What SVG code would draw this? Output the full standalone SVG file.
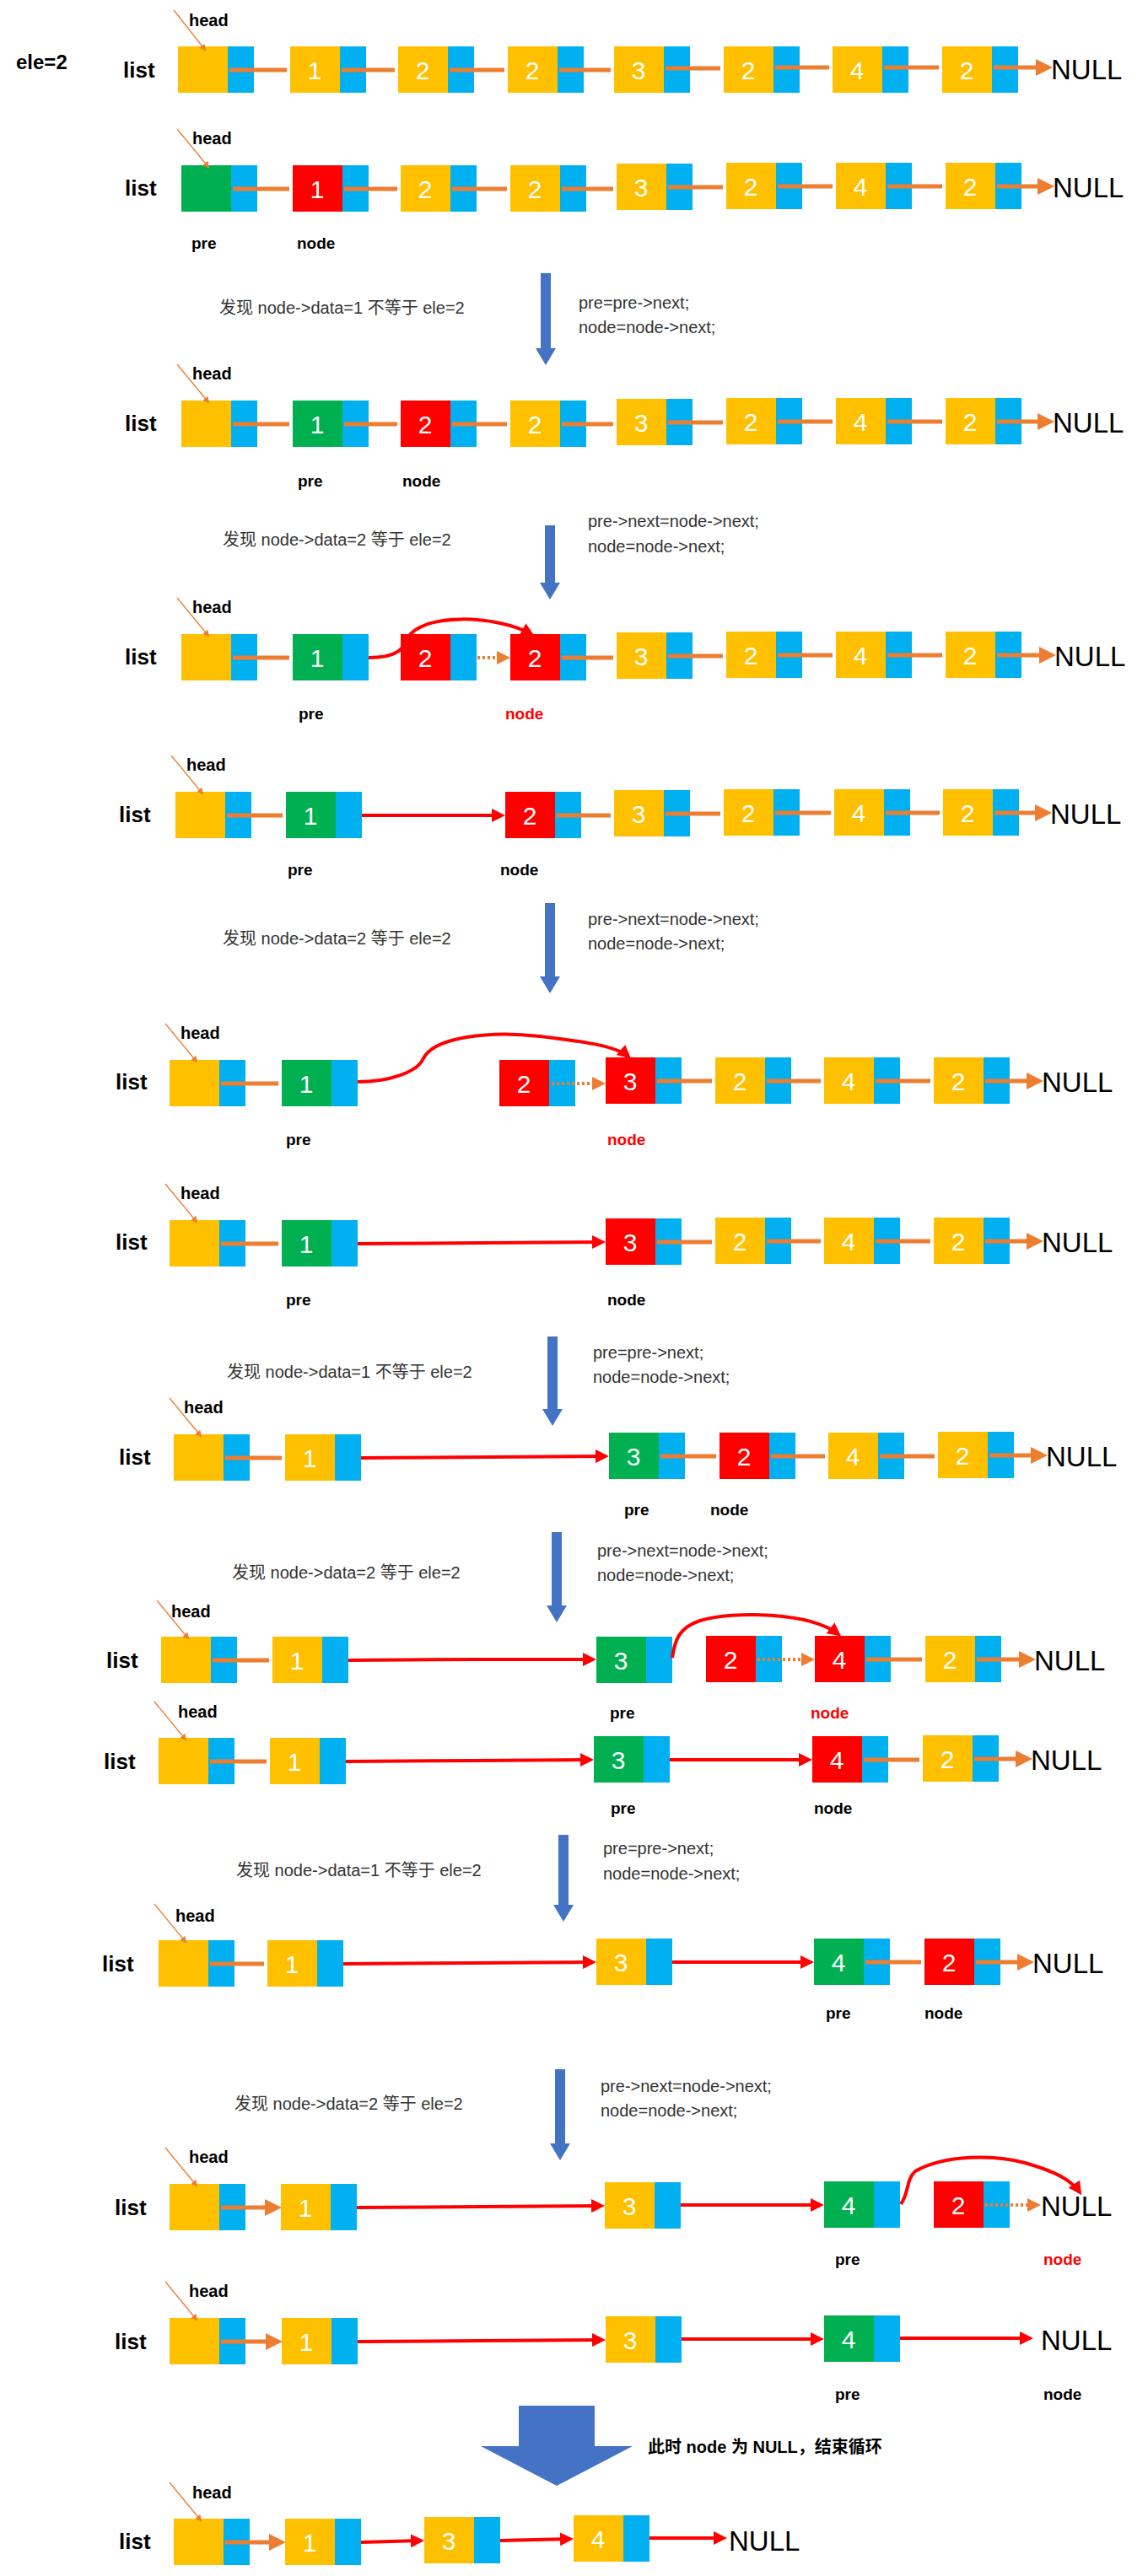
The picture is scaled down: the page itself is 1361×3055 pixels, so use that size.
<svg xmlns="http://www.w3.org/2000/svg" width="1361" height="3055" viewBox="0 0 1361 3055">
<style>
.Y{fill:#FFC000}.B{fill:#00B0F0}.G{fill:#00B050}.R{fill:#FF0000}
.num{font-family:"Liberation Sans",Arial,sans-serif;font-size:30px;fill:#fff;text-anchor:middle}
.lst{font-family:"Liberation Sans",Arial,sans-serif;font-size:26px;font-weight:bold;fill:#000}
.hd{font-family:"Liberation Sans",Arial,sans-serif;font-size:20px;font-weight:bold;fill:#000}
.lbl{font-family:"Liberation Sans",Arial,sans-serif;font-size:19px;font-weight:bold;fill:#000}
.lr{font-family:"Liberation Sans",Arial,sans-serif;font-size:19px;font-weight:bold;fill:#FF0000}
.nul{font-family:"Liberation Sans",Arial,sans-serif;font-size:33px;fill:#000}
.cap{font-family:"Liberation Sans","Noto Sans CJK SC",sans-serif;font-size:20px;fill:#333}
.o{stroke:#ED7D31;stroke-width:5;fill:none;marker-end:url(#ao)}
.od{stroke:#ED7D31;stroke-width:4;fill:none;stroke-dasharray:3 3;marker-end:url(#ao)}
.r{stroke:#FF0000;stroke-width:4;fill:none;marker-end:url(#ar)}
.hp{stroke:#ED7D31;stroke-width:1.3;fill:none;marker-end:url(#ah)}
.ba{fill:#4472C4}
</style>
<defs>
<marker id="ao" markerWidth="4" markerHeight="4" refX="3" refY="2" orient="auto"><path d="M0,0L4,2L0,4Z" fill="#ED7D31"/></marker>
<marker id="ar" markerWidth="4" markerHeight="4" refX="3" refY="2" orient="auto"><path d="M0,0L4,2L0,4Z" fill="#FF0000"/></marker>
<marker id="ah" markerWidth="8" markerHeight="8" refX="6" refY="4" orient="auto" markerUnits="userSpaceOnUse"><path d="M0,0L8,4L0,8Z" fill="#ED7D31"/></marker>
</defs>
<text x="19" y="82" style="font-family:'Liberation Sans',sans-serif;font-size:24px;font-weight:bold">ele=2</text>

<!-- Row 1 -->
<g id="row1">
<text class="lst" x="146" y="92">list</text><text class="hd" x="224" y="31">head</text>
<g id="r1h"><rect class="Y" x="211" y="55" width="59" height="55"/><rect class="B" x="270" y="55" width="31" height="55"/></g>
<g id="r1a"><rect class="Y" x="344" y="55" width="59" height="55"/><rect class="B" x="403" y="55" width="31" height="55"/><text class="num" x="373" y="94">1</text></g>
<g id="r1b"><rect class="Y" x="472" y="55" width="59" height="55"/><rect class="B" x="531" y="55" width="31" height="55"/><text class="num" x="501" y="94">2</text></g>
<g id="r1c"><rect class="Y" x="602" y="55" width="59" height="55"/><rect class="B" x="661" y="55" width="31" height="55"/><text class="num" x="631" y="94">2</text></g>
<g id="r1d"><rect class="Y" x="728" y="55" width="59" height="55"/><rect class="B" x="787" y="55" width="31" height="55"/><text class="num" x="757" y="94">3</text></g>
<g id="r1e"><rect class="Y" x="858" y="55" width="59" height="55"/><rect class="B" x="917" y="55" width="31" height="55"/><text class="num" x="887" y="94">2</text></g>
<g id="r1f"><rect class="Y" x="987" y="55" width="59" height="55"/><rect class="B" x="1046" y="55" width="31" height="55"/><text class="num" x="1016" y="94">4</text></g>
<g id="r1g"><rect class="Y" x="1117" y="55" width="59" height="55"/><rect class="B" x="1176" y="55" width="31" height="55"/><text class="num" x="1146" y="94">2</text></g>
<text class="nul" x="1246" y="94">NULL</text>
</g>

<!-- Row 2 -->
<g id="row2">
<text class="lst" x="148" y="232">list</text><text class="hd" x="228" y="171">head</text>
<g id="r2h"><rect class="G" x="215" y="196" width="59" height="55"/><rect class="B" x="274" y="196" width="31" height="55"/></g>
<g id="r2a"><rect class="R" x="347" y="196" width="59" height="55"/><rect class="B" x="406" y="196" width="31" height="55"/><text class="num" x="376" y="235">1</text></g>
<g id="r2b"><rect class="Y" x="475" y="196" width="59" height="55"/><rect class="B" x="534" y="196" width="31" height="55"/><text class="num" x="504" y="235">2</text></g>
<g id="r2c"><rect class="Y" x="605" y="196" width="59" height="55"/><rect class="B" x="664" y="196" width="31" height="55"/><text class="num" x="634" y="235">2</text></g>
<g id="r2d"><rect class="Y" x="731" y="194" width="59" height="55"/><rect class="B" x="790" y="194" width="31" height="55"/><text class="num" x="760" y="233">3</text></g>
<g id="r2e"><rect class="Y" x="861" y="193" width="59" height="55"/><rect class="B" x="920" y="193" width="31" height="55"/><text class="num" x="890" y="232">2</text></g>
<g id="r2f"><rect class="Y" x="991" y="193" width="59" height="55"/><rect class="B" x="1050" y="193" width="31" height="55"/><text class="num" x="1020" y="232">4</text></g>
<g id="r2g"><rect class="Y" x="1121" y="193" width="59" height="55"/><rect class="B" x="1180" y="193" width="31" height="55"/><text class="num" x="1150" y="232">2</text></g>
<text class="nul" x="1248" y="234">NULL</text>
<text class="lbl" x="227" y="295">pre</text><text class="lbl" x="352" y="295">node</text>
</g>

<path class="ba" d="M641,324H653V413H659L647,433L635,413H641Z"/>
<text class="cap" x="260" y="372">发现 node-&gt;data=1 不等于 ele=2</text>
<text class="cap" x="686" y="366">pre=pre-&gt;next;</text>
<text class="cap" x="686" y="395">node=node-&gt;next;</text>

<!-- Row 3 -->
<g id="row3">
<text class="lst" x="148" y="511">list</text><text class="hd" x="228" y="450">head</text>
<g id="r3h"><rect class="Y" x="215" y="475" width="59" height="55"/><rect class="B" x="274" y="475" width="31" height="55"/></g>
<g id="r3a"><rect class="G" x="347" y="475" width="59" height="55"/><rect class="B" x="406" y="475" width="31" height="55"/><text class="num" x="376" y="514">1</text></g>
<g id="r3b"><rect class="R" x="475" y="475" width="59" height="55"/><rect class="B" x="534" y="475" width="31" height="55"/><text class="num" x="504" y="514">2</text></g>
<g id="r3c"><rect class="Y" x="605" y="475" width="59" height="55"/><rect class="B" x="664" y="475" width="31" height="55"/><text class="num" x="634" y="514">2</text></g>
<g id="r3d"><rect class="Y" x="731" y="473" width="59" height="55"/><rect class="B" x="790" y="473" width="31" height="55"/><text class="num" x="760" y="512">3</text></g>
<g id="r3e"><rect class="Y" x="861" y="472" width="59" height="55"/><rect class="B" x="920" y="472" width="31" height="55"/><text class="num" x="890" y="511">2</text></g>
<g id="r3f"><rect class="Y" x="991" y="472" width="59" height="55"/><rect class="B" x="1050" y="472" width="31" height="55"/><text class="num" x="1020" y="511">4</text></g>
<g id="r3g"><rect class="Y" x="1121" y="472" width="59" height="55"/><rect class="B" x="1180" y="472" width="31" height="55"/><text class="num" x="1150" y="511">2</text></g>
<text class="nul" x="1248" y="513">NULL</text>
<text class="lbl" x="353" y="577">pre</text><text class="lbl" x="477" y="577">node</text>
</g>

<path class="ba" d="M646,623H658V691H664L652,711L640,691H646Z"/>
<text class="cap" x="264" y="647">发现 node-&gt;data=2 等于 ele=2</text>
<text class="cap" x="697" y="625">pre-&gt;next=node-&gt;next;</text>
<text class="cap" x="697" y="655">node=node-&gt;next;</text>

<!-- Row 4 -->
<g id="row4">
<text class="lst" x="148" y="788">list</text><text class="hd" x="228" y="727">head</text>
<g id="r4h"><rect class="Y" x="215" y="752" width="59" height="55"/><rect class="B" x="274" y="752" width="31" height="55"/></g>
<g id="r4a"><rect class="G" x="347" y="752" width="59" height="55"/><rect class="B" x="406" y="752" width="31" height="55"/><text class="num" x="376" y="791">1</text></g>
<g id="r4b"><rect class="R" x="475" y="752" width="59" height="55"/><rect class="B" x="534" y="752" width="31" height="55"/><text class="num" x="504" y="791">2</text></g>
<g id="r4c"><rect class="R" x="605" y="752" width="59" height="55"/><rect class="B" x="664" y="752" width="31" height="55"/><text class="num" x="634" y="791">2</text></g>
<g id="r4d"><rect class="Y" x="731" y="750" width="59" height="55"/><rect class="B" x="790" y="750" width="31" height="55"/><text class="num" x="760" y="789">3</text></g>
<g id="r4e"><rect class="Y" x="861" y="749" width="59" height="55"/><rect class="B" x="920" y="749" width="31" height="55"/><text class="num" x="890" y="788">2</text></g>
<g id="r4f"><rect class="Y" x="991" y="749" width="59" height="55"/><rect class="B" x="1050" y="749" width="31" height="55"/><text class="num" x="1020" y="788">4</text></g>
<g id="r4g"><rect class="Y" x="1121" y="749" width="59" height="55"/><rect class="B" x="1180" y="749" width="31" height="55"/><text class="num" x="1150" y="788">2</text></g>
<text class="nul" x="1250" y="790">NULL</text>
<text class="lbl" x="354" y="853">pre</text><text class="lr" x="599" y="853">node</text>
</g>

<path class="ba" d="M646,1071H658V1158H664L652,1178L640,1158H646Z"/>
<text class="cap" x="264" y="1120">发现 node-&gt;data=2 等于 ele=2</text>
<text class="cap" x="697" y="1097">pre-&gt;next=node-&gt;next;</text>
<text class="cap" x="697" y="1126">node=node-&gt;next;</text>

<!-- Row 5 -->
<g id="row5">
<text class="lst" x="141" y="975">list</text><text class="hd" x="221" y="914">head</text>
<g id="r5h"><rect class="Y" x="208" y="939" width="59" height="55"/><rect class="B" x="267" y="939" width="31" height="55"/></g>
<g id="r5a"><rect class="G" x="339" y="939" width="59" height="55"/><rect class="B" x="398" y="939" width="31" height="55"/><text class="num" x="368" y="978">1</text></g>
<g id="r5b"><rect class="R" x="599" y="939" width="59" height="55"/><rect class="B" x="658" y="939" width="31" height="55"/><text class="num" x="628" y="978">2</text></g>
<g id="r5c"><rect class="Y" x="728" y="937" width="59" height="55"/><rect class="B" x="787" y="937" width="31" height="55"/><text class="num" x="757" y="976">3</text></g>
<g id="r5d"><rect class="Y" x="858" y="936" width="59" height="55"/><rect class="B" x="917" y="936" width="31" height="55"/><text class="num" x="887" y="975">2</text></g>
<g id="r5e"><rect class="Y" x="989" y="936" width="59" height="55"/><rect class="B" x="1048" y="936" width="31" height="55"/><text class="num" x="1018" y="975">4</text></g>
<g id="r5f"><rect class="Y" x="1118" y="936" width="59" height="55"/><rect class="B" x="1177" y="936" width="31" height="55"/><text class="num" x="1147" y="975">2</text></g>
<text class="nul" x="1245" y="977">NULL</text>
<text class="lbl" x="341" y="1038">pre</text><text class="lbl" x="593" y="1038">node</text>
</g>

<!-- Row 6 -->
<g id="row6">
<text class="lst" x="137" y="1292">list</text><text class="hd" x="214" y="1232">head</text>
<g id="r6h"><rect class="Y" x="201" y="1257" width="59" height="55"/><rect class="B" x="260" y="1257" width="31" height="55"/></g>
<g id="r6a"><rect class="G" x="334" y="1257" width="59" height="55"/><rect class="B" x="393" y="1257" width="31" height="55"/><text class="num" x="363" y="1296">1</text></g>
<g id="r6b"><rect class="R" x="592" y="1257" width="59" height="55"/><rect class="B" x="651" y="1257" width="31" height="55"/><text class="num" x="621" y="1296">2</text></g>
<g id="r6c"><rect class="R" x="718" y="1254" width="59" height="55"/><rect class="B" x="777" y="1254" width="31" height="55"/><text class="num" x="747" y="1293">3</text></g>
<g id="r6d"><rect class="Y" x="848" y="1254" width="59" height="55"/><rect class="B" x="907" y="1254" width="31" height="55"/><text class="num" x="877" y="1293">2</text></g>
<g id="r6e"><rect class="Y" x="977" y="1254" width="59" height="55"/><rect class="B" x="1036" y="1254" width="31" height="55"/><text class="num" x="1006" y="1293">4</text></g>
<g id="r6f"><rect class="Y" x="1107" y="1254" width="59" height="55"/><rect class="B" x="1166" y="1254" width="31" height="55"/><text class="num" x="1136" y="1293">2</text></g>
<text class="nul" x="1235" y="1295">NULL</text>
<text class="lbl" x="339" y="1358">pre</text><text class="lr" x="720" y="1358">node</text>
</g>

<!-- Row 7 -->
<g id="row7">
<text class="lst" x="137" y="1482">list</text><text class="hd" x="214" y="1422">head</text>
<g id="r7h"><rect class="Y" x="201" y="1447" width="59" height="55"/><rect class="B" x="260" y="1447" width="31" height="55"/></g>
<g id="r7a"><rect class="G" x="334" y="1447" width="59" height="55"/><rect class="B" x="393" y="1447" width="31" height="55"/><text class="num" x="363" y="1486">1</text></g>
<g id="r7c"><rect class="R" x="718" y="1445" width="59" height="55"/><rect class="B" x="777" y="1445" width="31" height="55"/><text class="num" x="747" y="1484">3</text></g>
<g id="r7d"><rect class="Y" x="848" y="1444" width="59" height="55"/><rect class="B" x="907" y="1444" width="31" height="55"/><text class="num" x="877" y="1483">2</text></g>
<g id="r7e"><rect class="Y" x="977" y="1444" width="59" height="55"/><rect class="B" x="1036" y="1444" width="31" height="55"/><text class="num" x="1006" y="1483">4</text></g>
<g id="r7f"><rect class="Y" x="1107" y="1444" width="59" height="55"/><rect class="B" x="1166" y="1444" width="31" height="55"/><text class="num" x="1136" y="1483">2</text></g>
<text class="nul" x="1235" y="1485">NULL</text>
<text class="lbl" x="339" y="1548">pre</text><text class="lbl" x="720" y="1548">node</text>
</g>

<path class="ba" d="M649,1585H661V1671H667L655,1691L643,1671H649Z"/>
<text class="cap" x="269" y="1634">发现 node-&gt;data=1 不等于 ele=2</text>
<text class="cap" x="703" y="1611">pre=pre-&gt;next;</text>
<text class="cap" x="703" y="1640">node=node-&gt;next;</text>

<!-- Row 8 -->
<g id="row8">
<text class="lst" x="141" y="1737">list</text><text class="hd" x="218" y="1676">head</text>
<g id="r8h"><rect class="Y" x="206" y="1701" width="59" height="55"/><rect class="B" x="265" y="1701" width="31" height="55"/></g>
<g id="r8a"><rect class="Y" x="338" y="1701" width="59" height="55"/><rect class="B" x="397" y="1701" width="31" height="55"/><text class="num" x="367" y="1740">1</text></g>
<g id="r8b"><rect class="G" x="722" y="1699" width="59" height="55"/><rect class="B" x="781" y="1699" width="31" height="55"/><text class="num" x="751" y="1738">3</text></g>
<g id="r8c"><rect class="R" x="853" y="1699" width="59" height="55"/><rect class="B" x="912" y="1699" width="31" height="55"/><text class="num" x="882" y="1738">2</text></g>
<g id="r8d"><rect class="Y" x="982" y="1699" width="59" height="55"/><rect class="B" x="1041" y="1699" width="31" height="55"/><text class="num" x="1011" y="1738">4</text></g>
<g id="r8e"><rect class="Y" x="1112" y="1698" width="59" height="55"/><rect class="B" x="1171" y="1698" width="31" height="55"/><text class="num" x="1141" y="1737">2</text></g>
<text class="nul" x="1240" y="1739">NULL</text>
<text class="lbl" x="740" y="1797">pre</text><text class="lbl" x="842" y="1797">node</text>
</g>

<path class="ba" d="M654,1817H666V1904H672L660,1924L648,1904H654Z"/>
<text class="cap" x="275" y="1872">发现 node-&gt;data=2 等于 ele=2</text>
<text class="cap" x="708" y="1846">pre-&gt;next=node-&gt;next;</text>
<text class="cap" x="708" y="1875">node=node-&gt;next;</text>

<!-- Row 9 -->
<g id="row9">
<text class="lst" x="126" y="1978">list</text><text class="hd" x="203" y="1918">head</text>
<g id="r9h"><rect class="Y" x="191" y="1941" width="59" height="55"/><rect class="B" x="250" y="1941" width="31" height="55"/></g>
<g id="r9a"><rect class="Y" x="323" y="1941" width="59" height="55"/><rect class="B" x="382" y="1941" width="31" height="55"/><text class="num" x="352" y="1980">1</text></g>
<g id="r9b"><rect class="G" x="707" y="1941" width="59" height="55"/><rect class="B" x="766" y="1941" width="31" height="55"/><text class="num" x="736" y="1980">3</text></g>
<g id="r9c"><rect class="R" x="837" y="1940" width="59" height="55"/><rect class="B" x="896" y="1940" width="31" height="55"/><text class="num" x="866" y="1979">2</text></g>
<g id="r9d"><rect class="R" x="966" y="1940" width="59" height="55"/><rect class="B" x="1025" y="1940" width="31" height="55"/><text class="num" x="995" y="1979">4</text></g>
<g id="r9e"><rect class="Y" x="1097" y="1940" width="59" height="55"/><rect class="B" x="1156" y="1940" width="31" height="55"/><text class="num" x="1126" y="1979">2</text></g>
<text class="nul" x="1226" y="1981">NULL</text>
<text class="lbl" x="723" y="2038">pre</text><text class="lr" x="961" y="2038">node</text>
</g>

<!-- Row 10 -->
<g id="row10">
<text class="lst" x="123" y="2098">list</text><text class="hd" x="211" y="2037">head</text>
<g id="r10h"><rect class="Y" x="188" y="2061" width="59" height="55"/><rect class="B" x="247" y="2061" width="31" height="55"/></g>
<g id="r10a"><rect class="Y" x="320" y="2061" width="59" height="55"/><rect class="B" x="379" y="2061" width="31" height="55"/><text class="num" x="349" y="2100">1</text></g>
<g id="r10b"><rect class="G" x="704" y="2059" width="59" height="55"/><rect class="B" x="763" y="2059" width="31" height="55"/><text class="num" x="733" y="2098">3</text></g>
<g id="r10c"><rect class="R" x="963" y="2059" width="59" height="55"/><rect class="B" x="1022" y="2059" width="31" height="55"/><text class="num" x="992" y="2098">4</text></g>
<g id="r10d"><rect class="Y" x="1094" y="2058" width="59" height="55"/><rect class="B" x="1153" y="2058" width="31" height="55"/><text class="num" x="1123" y="2097">2</text></g>
<text class="nul" x="1222" y="2099">NULL</text>
<text class="lbl" x="724" y="2151">pre</text><text class="lbl" x="965" y="2151">node</text>
</g>

<path class="ba" d="M662,2176H674V2259H680L668,2279L656,2259H662Z"/>
<text class="cap" x="280" y="2225">发现 node-&gt;data=1 不等于 ele=2</text>
<text class="cap" x="715" y="2199">pre=pre-&gt;next;</text>
<text class="cap" x="715" y="2229">node=node-&gt;next;</text>

<!-- Row 11 -->
<g id="row11">
<text class="lst" x="121" y="2338">list</text><text class="hd" x="208" y="2279">head</text>
<g id="r11h"><rect class="Y" x="188" y="2301" width="59" height="55"/><rect class="B" x="247" y="2301" width="31" height="55"/></g>
<g id="r11a"><rect class="Y" x="317" y="2301" width="59" height="55"/><rect class="B" x="376" y="2301" width="31" height="55"/><text class="num" x="346" y="2340">1</text></g>
<g id="r11b"><rect class="Y" x="707" y="2299" width="59" height="55"/><rect class="B" x="766" y="2299" width="31" height="55"/><text class="num" x="736" y="2338">3</text></g>
<g id="r11c"><rect class="G" x="965" y="2299" width="59" height="55"/><rect class="B" x="1024" y="2299" width="31" height="55"/><text class="num" x="994" y="2338">4</text></g>
<g id="r11d"><rect class="R" x="1096" y="2299" width="59" height="55"/><rect class="B" x="1155" y="2299" width="31" height="55"/><text class="num" x="1125" y="2338">2</text></g>
<text class="nul" x="1224" y="2340">NULL</text>
<text class="lbl" x="979" y="2394">pre</text><text class="lbl" x="1096" y="2394">node</text>
</g>

<path class="ba" d="M658,2454H670V2542H676L664,2562L652,2542H658Z"/>
<text class="cap" x="278" y="2502">发现 node-&gt;data=2 等于 ele=2</text>
<text class="cap" x="712" y="2481">pre-&gt;next=node-&gt;next;</text>
<text class="cap" x="712" y="2510">node=node-&gt;next;</text>

<!-- Row 12 -->
<g id="row12">
<text class="lst" x="136" y="2627">list</text><text class="hd" x="224" y="2565">head</text>
<g id="r12h"><rect class="Y" x="201" y="2590" width="59" height="55"/><rect class="B" x="260" y="2590" width="31" height="55"/></g>
<g id="r12a"><rect class="Y" x="333" y="2590" width="59" height="55"/><rect class="B" x="392" y="2590" width="31" height="55"/><text class="num" x="362" y="2629">1</text></g>
<g id="r12b"><rect class="Y" x="717" y="2588" width="59" height="55"/><rect class="B" x="776" y="2588" width="31" height="55"/><text class="num" x="746" y="2627">3</text></g>
<g id="r12c"><rect class="G" x="977" y="2587" width="59" height="55"/><rect class="B" x="1036" y="2587" width="31" height="55"/><text class="num" x="1006" y="2626">4</text></g>
<g id="r12d"><rect class="R" x="1107" y="2587" width="59" height="55"/><rect class="B" x="1166" y="2587" width="31" height="55"/><text class="num" x="1136" y="2626">2</text></g>
<text class="nul" x="1234" y="2628">NULL</text>
<text class="lbl" x="990" y="2686">pre</text><text class="lr" x="1237" y="2686">node</text>
</g>

<!-- Row 13 -->
<g id="row13">
<text class="lst" x="136" y="2786">list</text><text class="hd" x="224" y="2724">head</text>
<g id="r13h"><rect class="Y" x="201" y="2749" width="59" height="55"/><rect class="B" x="260" y="2749" width="31" height="55"/></g>
<g id="r13a"><rect class="Y" x="334" y="2749" width="59" height="55"/><rect class="B" x="393" y="2749" width="31" height="55"/><text class="num" x="363" y="2788">1</text></g>
<g id="r13b"><rect class="Y" x="718" y="2747" width="59" height="55"/><rect class="B" x="777" y="2747" width="31" height="55"/><text class="num" x="747" y="2786">3</text></g>
<g id="r13c"><rect class="G" x="977" y="2746" width="59" height="55"/><rect class="B" x="1036" y="2746" width="31" height="55"/><text class="num" x="1006" y="2785">4</text></g>
<text class="nul" x="1234" y="2787">NULL</text>
<text class="lbl" x="990" y="2846">pre</text><text class="lbl" x="1237" y="2846">node</text>
</g>

<path class="ba" d="M615,2853H705V2901H750L660,2948L570,2901H615Z"/>
<text x="768" y="2909" style="font-family:'Liberation Sans','Noto Sans CJK SC',sans-serif;font-size:20px;font-weight:bold">此时 node 为 NULL，结束循环</text>

<!-- Row 14 -->
<g id="row14">
<text class="lst" x="141" y="3023">list</text><text class="hd" x="228" y="2963">head</text>
<g id="r14h"><rect class="Y" x="206" y="2987" width="59" height="55"/><rect class="B" x="265" y="2987" width="31" height="55"/></g>
<g id="r14a"><rect class="Y" x="338" y="2987" width="59" height="55"/><rect class="B" x="397" y="2987" width="31" height="55"/><text class="num" x="367" y="3026">1</text></g>
<g id="r14b"><rect class="Y" x="503" y="2985" width="59" height="55"/><rect class="B" x="562" y="2985" width="31" height="55"/><text class="num" x="532" y="3024">3</text></g>
<g id="r14c"><rect class="Y" x="680" y="2983" width="59" height="55"/><rect class="B" x="739" y="2983" width="31" height="55"/><text class="num" x="709" y="3022">4</text></g>
<text class="nul" x="864" y="3025">NULL</text>
</g>

<g id="connectors">
<!-- head pointers -->
<path class="hp" d="M206,12L243,59"/><path class="hp" d="M210,153L247,198"/><path class="hp" d="M210,432L247,477"/><path class="hp" d="M210,709L247,754"/>
<path class="hp" d="M203,896L240,941"/><path class="hp" d="M196,1214L233,1259"/><path class="hp" d="M196,1404L233,1449"/><path class="hp" d="M201,1658L238,1703"/>
<path class="hp" d="M186,1898L223,1943"/><path class="hp" d="M183,2018L220,2063"/><path class="hp" d="M183,2258L220,2303"/><path class="hp" d="M196,2547L233,2592"/>
<path class="hp" d="M196,2706L233,2751"/><path class="hp" d="M201,2944L238,2989"/>
<!-- row1 -->
<path class="o" d="M272,83H340M405,83H468M533,83H598M663,83H724M789,81H854M919,80H983M1048,80H1113M1178,80H1243"/>
<!-- row2 -->
<path class="o" d="M276,224H343M408,224H471M536,224H601M666,224H727M792,222H857M922,221H987M1052,221H1117M1182,221H1245"/>
<!-- row3 -->
<path class="o" d="M276,503H343M408,503H471M536,503H601M666,503H727M792,501H857M922,500H987M1052,500H1117M1182,500H1245"/>
<!-- row4 -->
<path class="o" d="M276,780H343M666,780H727M792,778H857M922,777H987M1052,777H1117M1182,777H1247"/>
<path class="r" d="M437,780C470,780 478,770 482,758C500,725 590,730 630,752"/>
<path class="od" d="M566,780H601"/>
<!-- row5 -->
<path class="o" d="M269,967H335M660,967H724M789,965H854M919,964H985M1050,964H1114M1179,964H1242"/>
<path class="r" d="M429,967H595"/>
<!-- row6 -->
<path class="o" d="M262,1285H330M779,1282H844M909,1282H973M1038,1282H1103M1168,1282H1232"/>
<path class="r" d="M424,1283C460,1283 495,1272 502,1255C515,1230 580,1222 640,1229C690,1235 730,1240 745,1253"/>
<path class="od" d="M654,1285H714"/>
<!-- row7 -->
<path class="o" d="M262,1475H330M779,1473H844M909,1472H973M1038,1472H1103M1168,1472H1232"/>
<path class="r" d="M424,1475L570,1474L714,1473"/>
<!-- row8 -->
<path class="o" d="M267,1729H334M783,1727H849M914,1727H978M1043,1727H1108M1173,1726H1237"/>
<path class="r" d="M428,1729L580,1728L718,1727"/>
<!-- row9 -->
<path class="o" d="M252,1969H319M1027,1968H1093M1158,1968H1223"/>
<path class="r" d="M413,1969L560,1968L703,1968"/>
<path class="r" d="M797,1966C800,1945 805,1930 830,1922C870,1910 960,1912 994,1938"/>
<path class="od" d="M898,1968H962"/>
<!-- row10 -->
<path class="o" d="M249,2089H316M1024,2087H1090M1155,2086H1219"/>
<path class="r" d="M410,2089L560,2088L700,2087"/>
<path class="r" d="M794,2087H959"/>
<!-- row11 -->
<path class="o" d="M249,2329H313M1026,2327H1092M1157,2327H1221"/>
<path class="r" d="M407,2329L560,2328L703,2327"/>
<path class="r" d="M797,2327H961"/>
<!-- row12 -->
<path class="o" d="M262,2618H329"/>
<path class="r" d="M423,2618L570,2617L713,2616"/>
<path class="r" d="M807,2615H973"/>
<path class="r" d="M1068,2614C1078,2600 1074,2585 1085,2575C1120,2555 1180,2555 1215,2565C1250,2575 1270,2585 1280,2600"/>
<path class="od" d="M1168,2615H1230"/>
<!-- row13 -->
<path class="o" d="M262,2777H330"/>
<path class="r" d="M424,2777L570,2776L714,2775"/>
<path class="r" d="M808,2774H973"/>
<path class="r" d="M1067,2773H1221"/>
<!-- row14 -->
<path class="o" d="M267,3015H334"/>
<path class="r" d="M428,3015L499,3013"/>
<path class="r" d="M593,3013L676,3011"/>
<path class="r" d="M770,3010H858"/>
</g>
</svg>
